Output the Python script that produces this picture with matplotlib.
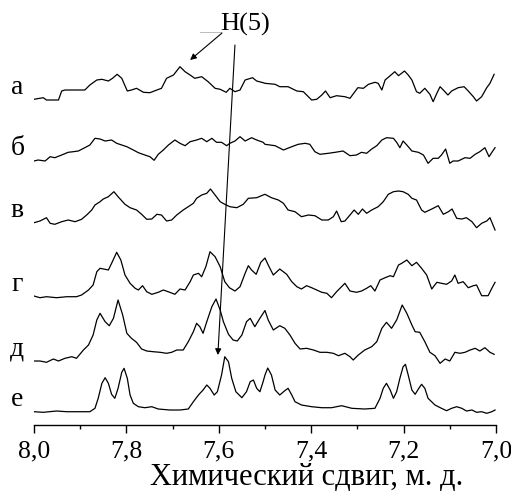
import matplotlib
matplotlib.use("Agg")
import matplotlib.pyplot as plt
from matplotlib.ticker import MultipleLocator

plt.rcParams['font.family'] = ['Liberation Serif', 'DejaVu Serif']

# (chemical shift, ppm ; intensity, arb. units)
spec_a = [(8.000, 0.7), (7.980, 2.3), (7.973, 0), (7.947, 0), (7.940, 9), (7.933, 10),
          (7.890, 10), (7.879, 15), (7.864, 20), (7.853, 20.7), (7.839, 19), (7.830, 21.7),
          (7.820, 25.7), (7.810, 21.7), (7.798, 9), (7.789, 10), (7.778, 11.7), (7.763, 7.7),
          (7.749, 7.3), (7.734, 10), (7.724, 11.7), (7.713, 21.7), (7.698, 25), (7.684, 33.3),
          (7.673, 28.3), (7.662, 25), (7.652, 21.7), (7.637, 23.3), (7.623, 18.3), (7.608, 11.7),
          (7.597, 10.7), (7.584, 7.7), (7.576, 11.7), (7.565, 8.3), (7.554, 10), (7.543, 20),
          (7.527, 22.3), (7.518, 19), (7.504, 17.3), (7.500, 16.7), (7.478, 15.7), (7.468, 13.3),
          (7.450, 13.3), (7.431, 9), (7.417, 8.3), (7.399, 0), (7.388, 0.7), (7.377, 5),
          (7.369, 9), (7.359, 2.3), (7.345, 4.3), (7.327, 3.3), (7.316, 1.7), (7.299, 12.3),
          (7.287, 11.7), (7.276, 15.7), (7.262, 17.7), (7.255, 16.7), (7.247, 10), (7.240, 20),
          (7.229, 24.3), (7.219, 28.3), (7.211, 24.3), (7.198, 29), (7.190, 25), (7.182, 20),
          (7.172, 8.3), (7.165, 6.7), (7.154, 11.7), (7.143, 5.7), (7.136, -1.7), (7.128, 6.7),
          (7.121, 13.3), (7.114, 10), (7.104, 5), (7.096, 9), (7.082, 12.3), (7.069, 13.3),
          (7.060, 9), (7.049, 3.3), (7.042, -1), (7.031, 3.3), (7.020, 12.3), (7.013, 16.7),
          (7.004, 25.7)]

spec_b = [(8.000, 0), (7.991, 1), (7.976, 0), (7.965, 4.3), (7.955, 3.3), (7.940, 6),
          (7.926, 8.7), (7.915, 9.3), (7.904, 10), (7.890, 13.3), (7.879, 16), (7.868, 22.7),
          (7.857, 22), (7.846, 20), (7.832, 21), (7.821, 17.7), (7.810, 16), (7.799, 14.3),
          (7.785, 11), (7.774, 8.3), (7.760, 6), (7.749, 4.3), (7.740, 0.7), (7.731, 6.7),
          (7.720, 11), (7.709, 16), (7.695, 21), (7.684, 17.7), (7.673, 15.3), (7.662, 19.3),
          (7.648, 21), (7.637, 22.7), (7.626, 19.3), (7.615, 22.7), (7.605, 18.7), (7.594, 18.7),
          (7.583, 15.3), (7.576, 17.7), (7.565, 20), (7.554, 24.3), (7.543, 20), (7.529, 23.3),
          (7.518, 21), (7.504, 18.7), (7.500, 16.7), (7.478, 15.3), (7.460, 11), (7.442, 14.3),
          (7.428, 16.7), (7.413, 17.7), (7.403, 16.7), (7.392, 9.3), (7.381, 6.7), (7.363, 7.7),
          (7.348, 8.7), (7.331, 10), (7.316, 5.3), (7.302, 6), (7.291, 8.7), (7.280, 7.7),
          (7.269, 12), (7.258, 15.3), (7.247, 21), (7.237, 23.3), (7.222, 22.7), (7.215, 18.7),
          (7.208, 13.3), (7.201, 20), (7.193, 16), (7.182, 10), (7.168, 8.7), (7.157, 6),
          (7.147, -2.3), (7.136, 2.7), (7.125, 2.7), (7.118, 6), (7.109, 12), (7.100, -2.3),
          (7.093, 0), (7.082, 0), (7.067, 3.3), (7.056, 2.7), (7.045, 6.7), (7.035, 9.3),
          (7.024, 13.3), (7.015, 4.3), (7.008, 9.3), (7.002, 13.3)]

spec_v = [(8.000, 0.3), (7.987, 2), (7.973, 5.3), (7.965, -0.3), (7.955, -1.3), (7.940, 1.3),
          (7.926, 3), (7.911, 1.3), (7.897, 3.7), (7.886, 8), (7.875, 13), (7.868, 18),
          (7.857, 21.3), (7.850, 24), (7.839, 26.3), (7.827, 31.3), (7.818, 26.3), (7.803, 18.7),
          (7.792, 15.3), (7.778, 13), (7.767, 8.7), (7.756, 3.7), (7.745, 4), (7.734, 8.7),
          (7.724, 8), (7.713, 2), (7.702, 3), (7.691, 8), (7.677, 13), (7.666, 16.3),
          (7.655, 19.7), (7.648, 24.7), (7.637, 28), (7.626, 29.7), (7.618, 34), (7.608, 28),
          (7.597, 21.3), (7.587, 18.7), (7.576, 16.3), (7.561, 15.3), (7.547, 18.7), (7.536, 24.7),
          (7.518, 25.3), (7.504, 28), (7.500, 28.7), (7.486, 25.3), (7.471, 23), (7.460, 19.7),
          (7.450, 13), (7.435, 11.3), (7.421, 6.3), (7.406, 8), (7.392, 7.3), (7.377, 3),
          (7.363, 3), (7.352, 6.3), (7.345, 12), (7.335, 1.3), (7.327, 2), (7.316, 8),
          (7.307, 13), (7.298, 8.7), (7.289, 14), (7.280, 9.7), (7.269, 13), (7.255, 16.3),
          (7.244, 21.3), (7.233, 28.7), (7.222, 31.3), (7.211, 32), (7.201, 31.3), (7.190, 28.7),
          (7.182, 24.7), (7.172, 23), (7.161, 13), (7.154, 10.7), (7.139, 14), (7.125, 17.3),
          (7.114, 8.7), (7.103, 11.3), (7.095, 14), (7.085, 4.7), (7.074, 4), (7.064, 5.3),
          (7.052, 1.3), (7.042, -4.7), (7.031, -0.3), (7.020, 2), (7.013, 5.3), (7.002, -7)]

spec_g = [(8.000, 1), (7.987, -0.7), (7.973, 0.3), (7.951, -0.7), (7.929, 0.3), (7.908, 0.3),
          (7.897, 2), (7.882, 7), (7.872, 12), (7.864, 25.3), (7.857, 28.7), (7.846, 27.7),
          (7.839, 27), (7.832, 33.7), (7.821, 44.7), (7.812, 37), (7.803, 22), (7.792, 13.7),
          (7.781, 8.7), (7.774, 7), (7.765, 11.3), (7.756, 5.3), (7.745, 2.7), (7.731, 4.7),
          (7.720, 7), (7.706, 4.7), (7.695, 2.7), (7.684, 8), (7.673, 7), (7.662, 15.3),
          (7.655, 22), (7.644, 23.7), (7.637, 20.3), (7.628, 30.3), (7.619, 45.3), (7.608, 40.3),
          (7.597, 30.3), (7.587, 15.3), (7.577, 9.3), (7.565, 6), (7.554, 10.3), (7.543, 23.7),
          (7.536, 31.3), (7.529, 27), (7.519, 22.7), (7.509, 34.7), (7.500, 39), (7.493, 32),
          (7.482, 22), (7.468, 28), (7.453, 22.7), (7.442, 15.3), (7.431, 10.3), (7.421, 8),
          (7.410, 11.3), (7.399, 9.3), (7.388, 7), (7.377, 4.7), (7.366, 3.7), (7.356, -0.7),
          (7.345, 5.3), (7.327, 13.7), (7.316, 6), (7.302, 4.7), (7.291, 6), (7.280, 8.7),
          (7.271, 11.3), (7.262, 6), (7.251, 17), (7.240, 19.3), (7.229, 21.3), (7.222, 20.3),
          (7.211, 32), (7.204, 33.7), (7.193, 37), (7.182, 31.3), (7.172, 34.7), (7.161, 28.7),
          (7.150, 22), (7.139, 8), (7.128, 14.7), (7.118, 13.7), (7.107, 12.7), (7.096, 16),
          (7.089, 22), (7.082, 13.7), (7.071, 15.3), (7.060, 9.3), (7.049, 11.3), (7.042, 12),
          (7.031, 1.3), (7.017, 1.3), (7.009, 8.7), (7.002, 14.7)]

spec_d = [(8.000, 0), (7.987, 0), (7.973, -1.3), (7.958, 2), (7.947, 0), (7.933, 2.7),
          (7.918, 4.3), (7.908, 2.7), (7.893, 11), (7.882, 16), (7.872, 26), (7.864, 41),
          (7.857, 47.7), (7.846, 39.3), (7.837, 35.3), (7.828, 42.7), (7.818, 61), (7.808, 46),
          (7.799, 27.7), (7.789, 22.7), (7.778, 18.7), (7.767, 12), (7.756, 10), (7.742, 9.3),
          (7.727, 8.7), (7.713, 7.7), (7.702, 8.7), (7.691, 11), (7.677, 11), (7.666, 19.3),
          (7.655, 29.3), (7.648, 37.7), (7.641, 34.3), (7.634, 27.7), (7.626, 39.3), (7.615, 54.3),
          (7.606, 62), (7.597, 51), (7.590, 39.3), (7.579, 26.7), (7.569, 21), (7.560, 20),
          (7.550, 26), (7.540, 39.3), (7.532, 42.7), (7.522, 34.3), (7.511, 42.7), (7.500, 50.5),
          (7.493, 41), (7.482, 31), (7.468, 35.3), (7.457, 32.7), (7.446, 26), (7.435, 17.7),
          (7.424, 12), (7.410, 12.7), (7.395, 11), (7.381, 8.7), (7.366, 8.7), (7.352, 7.7),
          (7.341, 5.3), (7.327, 7.7), (7.316, 4.3), (7.309, 1), (7.298, 6), (7.284, 11),
          (7.269, 14.3), (7.258, 19.3), (7.247, 32.7), (7.237, 38.7), (7.226, 32.7), (7.215, 41),
          (7.203, 56), (7.193, 47.7), (7.182, 36), (7.175, 29.3), (7.165, 28.7), (7.154, 19.3),
          (7.143, 8.7), (7.132, 5.3), (7.121, -2.3), (7.110, 2), (7.100, 0), (7.089, 8.7),
          (7.078, 7.7), (7.067, 8.7), (7.056, 11), (7.045, 12.7), (7.035, 10), (7.024, 13.3),
          (7.013, 8.7), (7.004, 6.7)]

spec_e = [(8.000, 0.3), (7.980, -0.3), (7.951, 1), (7.929, 0.3), (7.900, 0.3), (7.879, 0.3),
          (7.868, 3.7), (7.861, 13.7), (7.853, 28.7), (7.846, 34.3), (7.839, 28.7), (7.832, 17.7),
          (7.825, 13.7), (7.818, 23.7), (7.810, 39.7), (7.805, 43.7), (7.798, 33.7), (7.792, 17),
          (7.785, 8.7), (7.774, 5.3), (7.760, 4.3), (7.745, 5.3), (7.731, 3), (7.706, 2),
          (7.684, 2), (7.666, 3), (7.655, 10.3), (7.644, 17), (7.634, 22), (7.626, 27),
          (7.619, 23.7), (7.610, 17), (7.603, 20.3), (7.594, 37), (7.587, 55.3), (7.579, 50.3),
          (7.572, 33.7), (7.563, 20.3), (7.550, 14.3), (7.540, 20.3), (7.532, 30.3), (7.525, 32),
          (7.518, 23.7), (7.511, 20.3), (7.504, 30.3), (7.500, 37), (7.494, 44), (7.486, 37),
          (7.478, 22), (7.468, 17), (7.458, 21), (7.450, 23.7), (7.442, 17), (7.435, 10.3),
          (7.421, 7), (7.399, 5.3), (7.377, 4.3), (7.356, 4.3), (7.334, 6.3), (7.312, 3.7),
          (7.284, 3), (7.262, 3.7), (7.251, 13.7), (7.244, 23.7), (7.237, 28.7), (7.229, 22),
          (7.222, 13.7), (7.215, 20.3), (7.208, 33.7), (7.201, 45.3), (7.196, 47.7), (7.190, 37),
          (7.182, 22), (7.175, 17.7), (7.168, 23), (7.161, 27.7), (7.154, 23.7), (7.147, 13.7),
          (7.132, 7), (7.118, 3.7), (7.107, 1.3), (7.096, 3.7), (7.085, 5.3), (7.074, 3.7),
          (7.064, 1), (7.052, 2), (7.042, -0.3), (7.031, 0.3), (7.020, -1.3), (7.009, 0.3),
          (7.002, 2)]

spectra = [spec_a, spec_b, spec_v, spec_g, spec_d, spec_e]
labels = ['а', 'б', 'в', 'г', 'д', 'е']
offsets = [325, 264, 202, 128, 64, 13]

major_ticks = [8.0, 7.8, 7.6, 7.4, 7.2, 7.0]
tick_labels = ['8,0', '7,8', '7,6', '7,4', '7,2', '7,0']

fig = plt.figure(figsize=(5.11, 4.91), dpi=100)
ax = fig.add_axes([0.0665, 0.1344, 0.9041, 0.8656])

for spec, lab, off in zip(spectra, labels, offsets):
    ppm = [p for p, _ in spec]
    inten = [off + v for _, v in spec]
    ax.plot(ppm, inten, color='black', lw=0.9)
    ax.text(8.036, off + 6, lab, ha='center', va='baseline', fontsize=20)

# H(5) label and arrows
ax.text(7.543, 401, 'H(5)', ha='center', va='center', fontsize=19)
ax.plot([7.641, 7.595], [393, 393], color='#bbbbbb', lw=0.7)
arrow = dict(arrowstyle='-|>', color='black', lw=0.8, mutation_scale=9,
             shrinkA=0, shrinkB=0)
ax.annotate('', xy=(7.662, 365), xytext=(7.593, 392), arrowprops=arrow)
ax.annotate('', xy=(7.602, 70), xytext=(7.565, 380), arrowprops=arrow)

ax.set_xlim(8.0, 7.0)
ax.set_ylim(0, 425)
for side in ['left', 'right', 'top']:
    ax.spines[side].set_visible(False)
ax.spines['bottom'].set_linewidth(1.0)
ax.set_yticks([])
ax.set_xticks(major_ticks)
ax.set_xticklabels(tick_labels)
ax.xaxis.set_minor_locator(MultipleLocator(0.1))
ax.tick_params(axis='x', which='major', direction='out', length=6, width=1,
               labelsize=18.5, pad=5)
ax.tick_params(axis='x', which='minor', direction='out', length=3, width=1)
ax.set_xlabel('Химический сдвиг, м. д.', fontsize=22, va='baseline')
ax.xaxis.set_label_coords(0.591, -0.141)

fig.savefig('out.png', dpi=100)
